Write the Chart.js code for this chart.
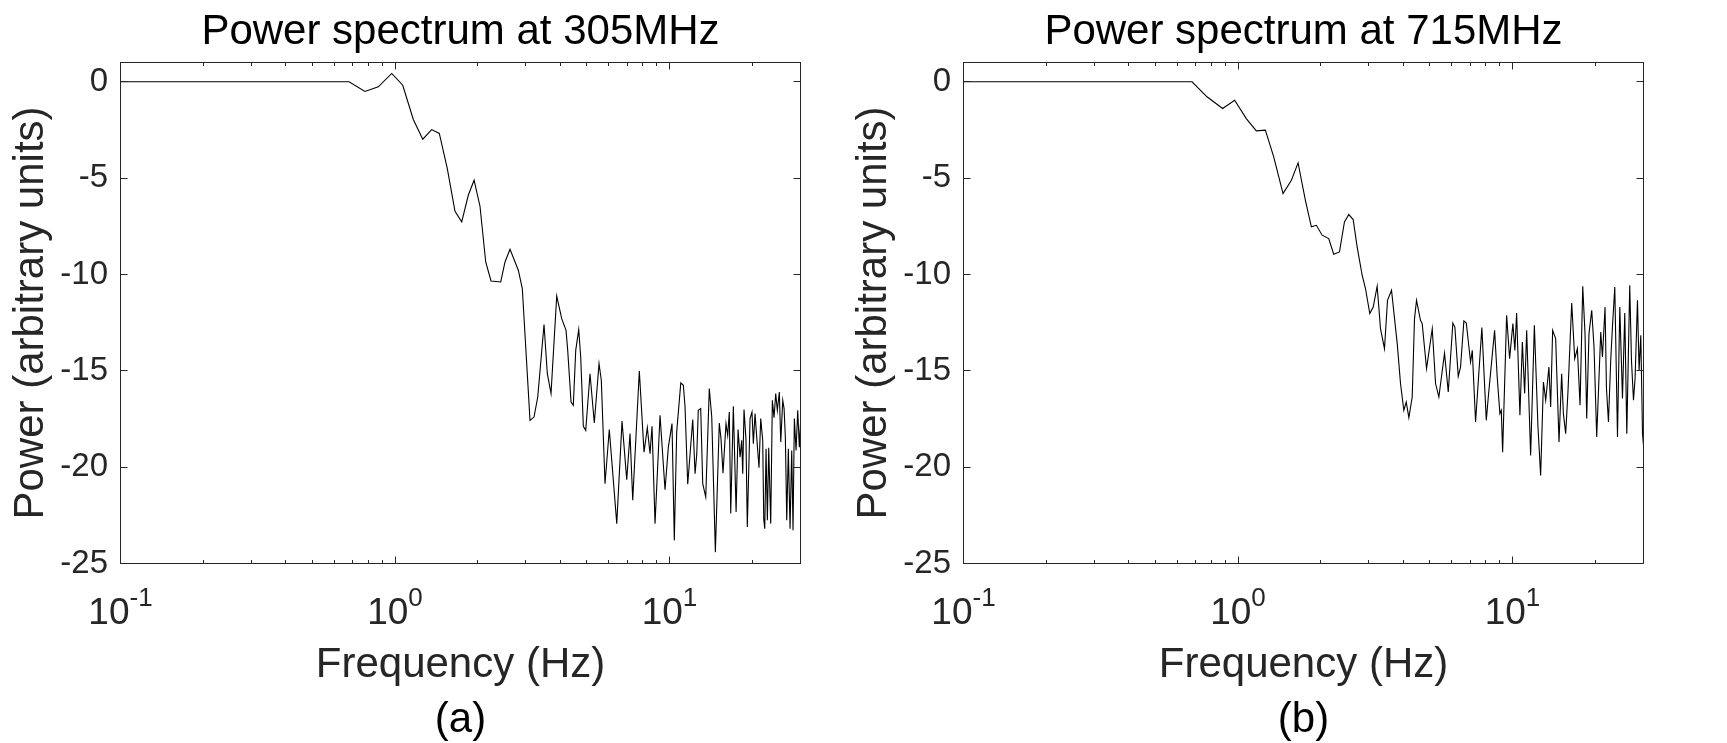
<!DOCTYPE html>
<html>
<head>
<meta charset="utf-8">
<title>Power spectrum</title>
<script src="https://cdn.jsdelivr.net/npm/chart.js@4.4.1/dist/chart.umd.min.js"></script>
<style>
  html,body{margin:0;padding:0;background:#fff;}
  #wrap{position:relative;width:1727px;height:743px;overflow:hidden;}
  canvas{position:absolute;top:0;}
  #a{left:0;} #b{left:843px;}
</style>
</head>
<body>
<div id="wrap">
  <canvas id="a" width="843" height="743"></canvas>
  <canvas id="b" width="884" height="743"></canvas>
</div>
<script>
// axis ticks
const xTicks = [0.1,0.2,0.3,0.4,0.5,0.6,0.7,0.8,0.9,1,2,3,4,5,6,7,8,9,10,20,30];
const xMajor = [0.1, 1, 10];
const xExp = ['-1', '0', '1'];
const yTicks = [-25, -20, -15, -10, -5, 0];

// (a) 305 MHz
const freqA = [0.1,0.68,0.777,0.869,0.973,1.067,1.166,1.262,1.36,1.45,1.55,1.654,1.75,1.849,1.941,2.04,2.14,2.237,2.427,2.516,2.624,2.813,2.909,3.103,3.209,3.311,3.49,3.588,3.701,3.882,4.048,4.198,4.257,4.378,4.462,4.553,4.669,4.748,4.853,4.952,5.133,5.321,5.536,5.643,5.821,6.034,6.424,6.714,6.984,7.18,7.344,7.762,8.075,8.301,8.491,8.635,8.856,9.235,9.63,9.901,10.21,10.41,10.62,10.99,11.23,11.39,11.65,12.15,12.39,12.57,12.73,12.99,13.21,13.55,13.96,14.25,14.69,15.18,15.4,15.66,16.06,16.29,16.51,16.71,17.08,17.48,17.77,18.07,18.32,18.48,18.68,18.99,19.2,19.65,19.97,20.2,20.49,20.78,21.18,21.49,21.85,22.04,22.23,22.47,22.72,22.98,23.37,23.69,24.03,24.37,24.7,25.12,25.42,25.85,26.14,26.42,26.73,27.09,27.48,27.87,28.18,28.49,28.9,29.31,29.71,30];
const powerA = [0,0,-0.5,-0.26,0.43,-0.18,-1.96,-2.98,-2.48,-2.68,-4.5,-6.72,-7.27,-5.89,-5.11,-6.46,-9.35,-10.34,-10.39,-9.35,-8.69,-9.78,-10.73,-17.57,-17.4,-16.36,-12.6,-15.15,-16.18,-11.12,-12.29,-12.9,-13.94,-16.62,-16.79,-13.94,-12.86,-14.28,-17.88,-18.09,-15.15,-17.71,-14.63,-15.49,-20.86,-18.05,-22.93,-17.61,-20.65,-18.26,-21.72,-15.01,-19.22,-17.95,-19.3,-17.88,-22.93,-17.31,-21.17,-18.96,-17.74,-23.8,-18.18,-15.63,-15.75,-16.88,-20.89,-17.53,-20.34,-19.3,-17.05,-16.96,-20.86,-21.55,-15.92,-17.4,-24.41,-17.71,-18.52,-20.31,-17.74,-18.35,-17.14,-22.41,-16.84,-22.33,-18.05,-19.48,-18.61,-20.34,-17.01,-18.57,-23.11,-17.48,-17.14,-18.78,-17.22,-18.44,-20.03,-17.48,-18.61,-22.67,-23.19,-19.04,-22.76,-18.99,-22.93,-16.53,-17.43,-16.18,-17.05,-16.1,-18.7,-16.53,-16.96,-18.44,-22.76,-19.04,-23.19,-19.13,-23.28,-17.48,-19.13,-17.05,-18.96,-17.74];

// (b) 715 MHz
const freqB = [0.1,0.68,0.771,0.879,0.972,1.072,1.166,1.258,1.349,1.459,1.565,1.655,1.76,1.85,1.93,2.025,2.14,2.232,2.342,2.442,2.532,2.627,2.716,2.833,2.913,3.02,3.108,3.213,3.304,3.417,3.504,3.624,3.802,3.908,4.018,4.1,4.191,4.311,4.395,4.47,4.621,4.688,4.862,5.1,5.243,5.391,5.653,5.833,6.062,6.165,6.343,6.467,6.649,6.784,7.034,7.135,7.335,7.733,8.025,8.161,8.604,8.803,8.995,9.101,9.203,9.518,9.759,10.03,10.2,10.35,10.64,10.86,11.07,11.26,11.64,12.01,12.38,12.66,12.96,13.21,13.57,13.77,14.0,14.36,14.77,15.1,15.32,15.62,15.92,16.43,16.85,17.23,17.62,18.02,18.37,18.63,18.99,19.43,19.81,20.26,20.96,21.26,21.73,21.99,22.36,22.8,23.12,23.58,24.12,24.59,25.15,25.64,26.08,26.73,27.12,27.58,27.95,28.52,28.91,29.33,29.75,30];
const powerB = [0,0,-0.78,-1.39,-0.96,-1.91,-2.55,-2.51,-3.9,-5.8,-5.11,-4.21,-6.15,-7.53,-7.45,-7.96,-8.14,-8.95,-8.83,-7.27,-6.89,-7.15,-8.57,-10.04,-10.73,-12.03,-11.69,-10.61,-12.81,-13.85,-11.34,-10.82,-13.59,-15.66,-17.05,-16.62,-17.43,-16.36,-12.29,-11.34,-12.38,-12.55,-14.89,-12.81,-15.66,-16.36,-14.08,-16.1,-12.52,-12.73,-15.29,-14.8,-12.41,-12.52,-14.54,-13.94,-17.66,-12.76,-17.57,-16.36,-12.9,-15.41,-17.22,-17.05,-19.22,-12.12,-14.37,-12.55,-13.94,-12.0,-17.31,-13.5,-16.18,-12.9,-19.39,-12.64,-17.92,-20.43,-15.58,-16.53,-14.8,-16.88,-12.9,-13.33,-18.7,-15.15,-17.22,-18.26,-16.1,-11.48,-14.37,-13.85,-16.79,-10.61,-13.07,-17.48,-13.07,-11.86,-13.76,-18.44,-12.99,-14.28,-11.69,-15.92,-17.66,-14.37,-12.73,-10.65,-18.44,-11.69,-16.44,-12.0,-18.26,-10.56,-14.45,-16.53,-15.41,-11.34,-14.97,-13.16,-18.26,-18.87];

const FONT = "'Liberation Sans', Arial, Helvetica, sans-serif";
const INK = '#262626';
const $ = id => document.getElementById(id);
const half = p => Math.floor(p) + 0.5;

// matlab-like box: inward ticks on all sides, superscript decade labels, titles
const frame = {
  id: 'frame',
  afterDraw(chart, args, opts){
    const {ctx, chartArea:a, scales:{x, y}} = chart;
    const cx = (a.left + a.right) / 2, cy = (a.top + a.bottom) / 2;
    ctx.save();
    ctx.strokeStyle = INK; ctx.lineWidth = 1;
    ctx.strokeRect(a.left, a.top, a.right - a.left, a.bottom - a.top);
    ctx.beginPath();
    xTicks.forEach(v => {
      const px = half(x.getPixelForValue(v)), len = xMajor.includes(v) ? 7 : 3.5;
      ctx.moveTo(px, a.bottom); ctx.lineTo(px, a.bottom - len);
      ctx.moveTo(px, a.top); ctx.lineTo(px, a.top + len);
    });
    yTicks.forEach(v => {
      const py = half(y.getPixelForValue(v));
      ctx.moveTo(a.left, py); ctx.lineTo(a.left + 7, py);
      ctx.moveTo(a.right, py); ctx.lineTo(a.right - 7, py);
    });
    ctx.stroke();

    ctx.fillStyle = INK; ctx.textBaseline = 'alphabetic'; ctx.textAlign = 'left';
    xMajor.forEach((v, i) => {
      const px = x.getPixelForValue(v);
      ctx.font = `37px ${FONT}`; const wb = ctx.measureText('10').width;
      ctx.font = `26px ${FONT}`; const we = ctx.measureText(xExp[i]).width;
      const left = px - (wb + we) / 2;
      ctx.font = `37px ${FONT}`; ctx.fillText('10', left, a.bottom + 60);
      ctx.font = `26px ${FONT}`; ctx.fillText(xExp[i], left + wb, a.bottom + 42.5);
    });

    ctx.textAlign = 'center'; ctx.font = `42px ${FONT}`;
    ctx.fillText('Frequency (Hz)', cx, 677);
    ctx.fillStyle = '#000';
    ctx.fillText(opts.title, cx, 44);
    ctx.fillText(opts.panel, cx, 732);

    ctx.fillStyle = INK;
    ctx.translate(42.5, cy); ctx.rotate(-Math.PI / 2);
    ctx.fillText('Power (arbitrary units)', 0, 0);
    ctx.restore();
  }
};

function makeChart(id, freq, power, title, panel){
  const cv = $(id);
  return new Chart(cv, {
    type: 'line',
    data: { datasets: [{ data: freq.map((f, i) => ({x: f, y: power[i]})), borderColor: '#000', borderWidth: 1.1, pointRadius: 0, tension: 0, fill: false }] },
    options: {
      responsive: false, animation: false, devicePixelRatio: 1,
      layout: { padding: { left: 0, top: 62.5, right: cv.width - 800.5, bottom: 0 } },
      plugins: { legend: {display: false}, tooltip: {enabled: false}, title: {display: false}, frame: {title, panel} },
      scales: {
        x: { type: 'logarithmic', min: 0.1, max: 30,
             grid: {display: false, drawTicks: false}, border: {display: false}, ticks: {display: false},
             afterFit: s => { s.height = 179.5; } },
        y: { min: -25, max: 1,
             grid: {display: false, drawTicks: false}, border: {display: false},
             afterBuildTicks: s => { s.ticks = yTicks.map(v => ({value: v})); },
             ticks: { color: INK, padding: 12.5, font: {family: FONT, size: 33} },
             afterFit: s => { s.width = 120.5; } }
      }
    },
    plugins: [frame]
  });
}

makeChart('a', freqA, powerA, 'Power spectrum at 305MHz', '(a)');
makeChart('b', freqB, powerB, 'Power spectrum at 715MHz', '(b)');
</script>
</body>
</html>
